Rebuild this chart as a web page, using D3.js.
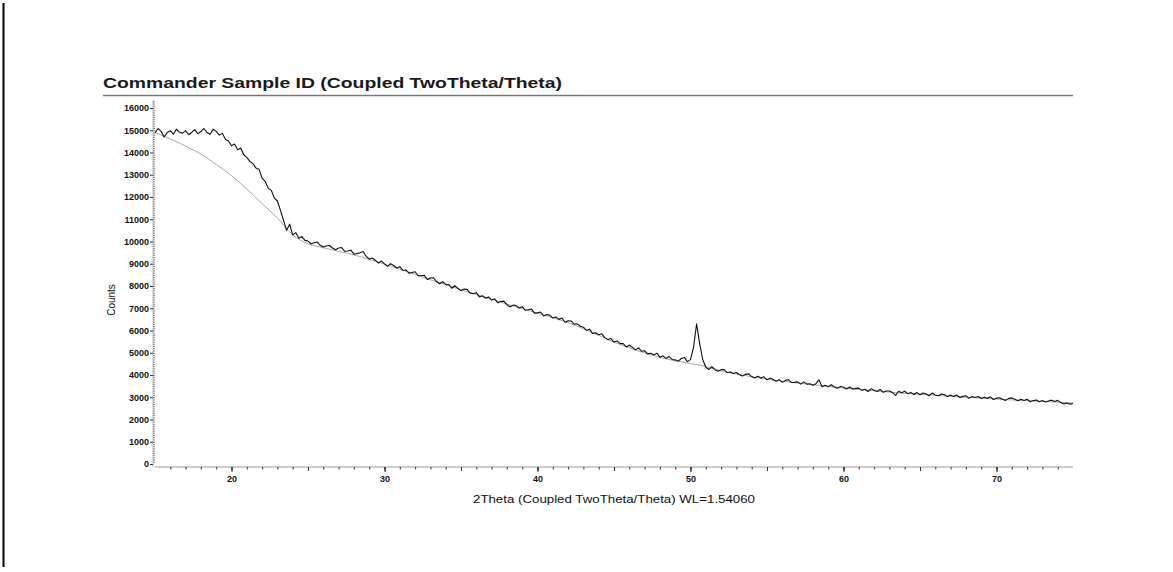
<!DOCTYPE html>
<html><head><meta charset="utf-8">
<script src="https://cdn.jsdelivr.net/npm/d3@7"></script>
<style>body{margin:0;background:#fff}svg{display:block}</style>
</head><body><svg id="c" width="1173" height="572"></svg>
<script>
const titleText = "Commander Sample ID (Coupled TwoTheta/Theta)";
const xLabel = "2Theta (Coupled TwoTheta/Theta) WL=1.54060";
const yLabel = "Counts";
const xStart = 15, xStep = 0.2;
// measured counts, 2Theta 15.0 .. 75.0 in 0.2 steps
const counts = [
 14880,15080,14950,14700,14900,14980,14820,15050,14900,14870,
 14980,14800,14900,15030,14850,14940,15080,14900,14820,15050,
 14950,14780,14860,14600,14520,14300,14380,14120,14200,13900,
 13780,13600,13500,13300,13250,12850,12700,12400,12300,11950,
 11820,11400,10950,10500,10780,10300,10400,10150,10220,10050,
 10020,9890,9940,9980,9830,9750,9800,9820,9710,9630,
 9710,9730,9560,9570,9610,9430,9460,9490,9550,9340,
 9210,9260,9160,9030,9120,8990,8880,9000,8920,8810,
 8870,8700,8720,8580,8610,8640,8460,8460,8480,8290,
 8360,8370,8200,8100,8190,8070,8070,7900,8010,7890,
 7790,7860,7850,7680,7660,7700,7510,7560,7450,7510,
 7370,7420,7250,7300,7320,7160,7060,7140,7120,7010,
 7070,6910,6930,6970,6780,6790,6830,6650,6720,6690,
 6560,6610,6500,6560,6370,6440,6430,6280,6300,6190,
 6150,6010,6060,5870,5900,5810,5850,5680,5590,5640,
 5480,5530,5410,5410,5260,5340,5250,5130,5220,5070,
 5090,4950,4980,4900,4980,4800,4860,4750,4830,4700,
 4680,4620,4740,4790,4600,4690,5250,6300,5400,4700,
 4350,4250,4370,4240,4170,4240,4240,4110,4130,4070,
 4110,4010,3950,4030,4050,3930,3870,3940,3870,3920,
 3780,3860,3800,3720,3790,3670,3760,3790,3660,3670,
 3690,3590,3690,3590,3610,3540,3610,3780,3470,3540,
 3470,3560,3460,3400,3480,3450,3370,3460,3370,3400,
 3410,3310,3360,3260,3380,3320,3260,3350,3220,3280,
 3280,3210,3080,3270,3200,3270,3160,3210,3120,3210,
 3110,3190,3150,3070,3190,3100,3070,3150,3110,3030,
 3100,3030,3100,2990,3040,3070,2950,3030,2990,3030,
 2940,3000,2950,3020,2900,2960,2980,2900,2860,2950,
 2970,2910,2840,2910,2850,2910,2800,2850,2880,2800,
 2850,2790,2830,2870,2810,2860,2760,2700,2740,2690,
 2720
];
// fitted background
const bgTheta = [15,16,17,18,19,20,21,22,23,24,25,26,27,28,29,30,31,32,33,34,35,36,37,38,39,40,41,42,43,44,45,46,47,48,49,50,51,52,53,54,55,56,57,58,59,60,61,62,63,64,65,66,67,68,69,70,71,72,73,74,75];
const bgCounts = [14900,14610,14290,13930,13460,12960,12360,11700,11060,10300,9900,9720,9560,9400,9200,8980,8760,8520,8280,8060,7830,7620,7400,7190,6980,6780,6570,6350,6080,5780,5480,5220,4990,4790,4640,4520,4380,4180,4040,3920,3810,3720,3640,3560,3490,3420,3350,3290,3230,3180,3130,3090,3040,3000,2960,2920,2880,2850,2810,2780,2740];
const xTickLabels = [20,30,40,50,60,70];
const yTickLabels = [0,1000,2000,3000,4000,5000,6000,7000,8000,9000,10000,11000,12000,13000,14000,15000,16000];

const svg = d3.select("#c");
const FONT = "'Liberation Sans', Arial, sans-serif";
const x = d3.scaleLinear().domain([15, 75]).range([155, 1073]);
const y = d3.scaleLinear().domain([0, 16000]).range([464, 108]);

// left frame line
svg.append("line").attr("x1",3.5).attr("x2",3.5).attr("y1",3).attr("y2",567)
  .attr("stroke","#000").attr("stroke-width",2);

// title
svg.append("text").attr("x",103).attr("y",88).text(titleText)
  .attr("font-family",FONT).attr("font-size",14).attr("font-weight","bold")
  .attr("fill","#1a1a1a").attr("textLength",459).attr("lengthAdjust","spacingAndGlyphs");
svg.append("line").attr("x1",103).attr("x2",1073).attr("y1",95.5).attr("y2",95.5)
  .attr("stroke","#777").attr("stroke-width",1.5);

// x axis
const xg = svg.append("g").attr("transform","translate(0,467)");
xg.append("line").attr("x1",155).attr("x2",1073).attr("stroke","#999").attr("stroke-width",1.2);
xg.append("g").call(d3.axisBottom(x).tickValues(d3.range(16,75,1)).tickSize(2.5).tickFormat(""))
  .call(g=>g.select(".domain").remove()).selectAll("line").attr("stroke","#333");
xg.append("g").call(d3.axisBottom(x).tickValues([20,25,30,35,40,45,50,55,60,65,70]).tickSize(4).tickFormat(""))
  .call(g=>g.select(".domain").remove()).selectAll("line").attr("stroke","#333");
const xl = xg.append("g").call(d3.axisBottom(x).tickValues(xTickLabels).tickSize(5).tickPadding(4).tickFormat(d3.format("d")));
xl.select(".domain").remove();
xl.selectAll("line").attr("stroke","#333");
xl.selectAll("text").attr("font-family",FONT).attr("font-size",9).attr("font-weight","bold").attr("fill","#111");

// y axis
const yg = svg.append("g").attr("transform","translate(153,0)");
yg.append("line").attr("y1",100).attr("y2",467).attr("stroke","#bbb").attr("stroke-width",1);
yg.append("g").call(d3.axisRight(y).tickValues(d3.range(100,16400,100)).tickSize(2).tickFormat(""))
  .call(g=>g.select(".domain").remove()).selectAll("line").attr("stroke","#888");
const yl = yg.append("g").call(d3.axisLeft(y).tickValues(yTickLabels).tickSize(3).tickPadding(1).tickFormat(d3.format("d")));
yl.select(".domain").remove();
yl.selectAll("line").attr("stroke","#333");
yl.selectAll("text").attr("font-family",FONT).attr("font-size",9).attr("font-weight","bold").attr("fill","#111");

// axis titles
svg.append("text").attr("transform","translate(115,300) rotate(-90)").attr("text-anchor","middle")
  .text(yLabel).attr("font-family",FONT).attr("font-size",10).attr("fill","#111");
svg.append("text").attr("x",614).attr("y",503).attr("text-anchor","middle").text(xLabel)
  .attr("font-family",FONT).attr("font-size",11).attr("fill","#111")
  .attr("textLength",282).attr("lengthAdjust","spacingAndGlyphs");

// data
const pts = counts.map((c,i)=>[xStart + i*xStep, c]);
const bg = bgTheta.map((t,i)=>[t, bgCounts[i]]);
svg.append("path").datum(bg)
  .attr("d", d3.line().x(d=>x(d[0])).y(d=>y(d[1])).curve(d3.curveMonotoneX))
  .attr("fill","none").attr("stroke","#a8a8a8").attr("stroke-width",1);
svg.append("path").datum(pts)
  .attr("d", d3.line().x(d=>x(d[0])).y(d=>y(d[1])))
  .attr("fill","none").attr("stroke","#111").attr("stroke-width",1.1).attr("stroke-linejoin","round");
</script></body></html>
